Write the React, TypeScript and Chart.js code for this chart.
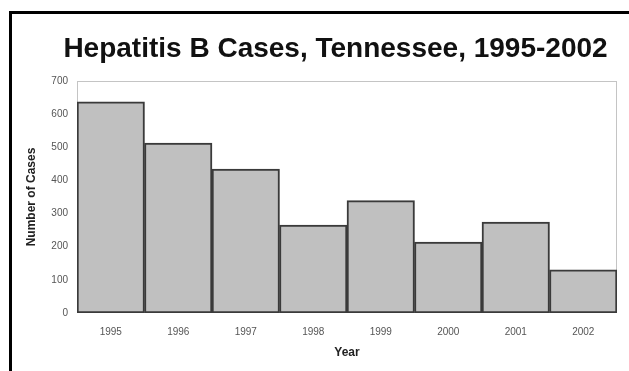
import React, { useEffect, useRef } from "react";
import { Chart, registerables } from "chart.js";

Chart.register(...registerables);

// Reported hepatitis B cases per year
const years = ["1995", "1996", "1997", "1998", "1999", "2000", "2001", "2002"];
const cases = [637, 513, 434, 265, 339, 214, 274, 130];

const yMin = 0;
const yMax = 700;
const yStep = 100;

const chartTitle = "Hepatitis B Cases, Tennessee, 1995-2002";
const xTitle = "Year";
const yTitle = "Number of Cases";

const FONT = "'Liberation Sans', Arial, Helvetica, sans-serif";

// Heading drawn across the top of the canvas
const headingPlugin = {
  id: "heading",
  afterDraw(chart: any) {
    const { ctx } = chart;
    ctx.save();
    ctx.font = `bold 28px ${FONT}`;
    ctx.fillStyle = "#111";
    ctx.textAlign = "center";
    ctx.textBaseline = "alphabetic";
    ctx.fillText(chartTitle, 335.5, 57);
    ctx.restore();
  },
};

// Thin light frame around the plotting area
const plotFramePlugin = {
  id: "plotFrame",
  beforeDatasetsDraw(chart: any) {
    const { ctx, chartArea } = chart;
    ctx.save();
    ctx.strokeStyle = "#c4c4c4";
    ctx.lineWidth = 1;
    ctx.strokeRect(
      chartArea.left + 0.5,
      chartArea.top + 0.5,
      chartArea.right - chartArea.left - 1,
      chartArea.bottom - chartArea.top - 1
    );
    ctx.restore();
  },
};

export default function App() {
  const canvasRef = useRef<HTMLCanvasElement | null>(null);

  useEffect(() => {
    if (!canvasRef.current) return;
    const chart = new Chart(canvasRef.current, {
      type: "bar",
      data: {
        labels: years,
        datasets: [
          {
            data: cases,
            backgroundColor: "#c0c0c0",
            borderColor: "#3a3a3a",
            borderWidth: 2,
            borderSkipped: false,
            barPercentage: 1,
            categoryPercentage: 1,
          },
        ],
      },
      options: {
        responsive: false,
        animation: false,
        devicePixelRatio: 1,
        layout: { padding: { left: 20, right: 12, top: 81, bottom: 10 } },
        plugins: {
          legend: { display: false },
          title: { display: false },
          tooltip: { enabled: false },
        },
        scales: {
          x: {
            grid: { display: false, drawTicks: false },
            border: { display: false },
            ticks: {
              padding: 13,
              color: "#555",
              font: { family: FONT, size: 10 },
              maxRotation: 0,
            },
            title: {
              display: true,
              text: xTitle,
              color: "#222",
              font: { family: FONT, size: 12, weight: "bold" },
              padding: { top: 0, bottom: 1 },
            },
            afterFit(scale: any) {
              scale.height = 48;
            },
          },
          y: {
            min: yMin,
            max: yMax,
            grid: { display: false, drawTicks: false },
            border: { display: false },
            ticks: {
              stepSize: yStep,
              padding: 9,
              color: "#555",
              font: { family: FONT, size: 10 },
            },
            title: {
              display: true,
              text: yTitle,
              color: "#222",
              font: { family: FONT, size: 12, weight: "bold" },
              padding: { top: 4, bottom: 0 },
            },
            afterFit(scale: any) {
              scale.width = 57;
            },
          },
        },
      },
      plugins: [plotFramePlugin, headingPlugin],
    });
    return () => chart.destroy();
  }, []);

  return (
    <div
      style={{
        position: "fixed",
        left: 0,
        top: 0,
        width: 629,
        height: 371,
        background: "#fff",
        overflow: "hidden",
      }}
    >
      <div
        style={{
          position: "absolute",
          left: 9,
          top: 11,
          width: 700,
          height: 500,
          borderLeft: "3px solid #000",
          borderTop: "3px solid #000",
        }}
      />
      <canvas
        ref={canvasRef}
        width={629}
        height={371}
        style={{ position: "absolute", left: 0, top: 0, width: 629, height: 371 }}
      />
    </div>
  );
}
